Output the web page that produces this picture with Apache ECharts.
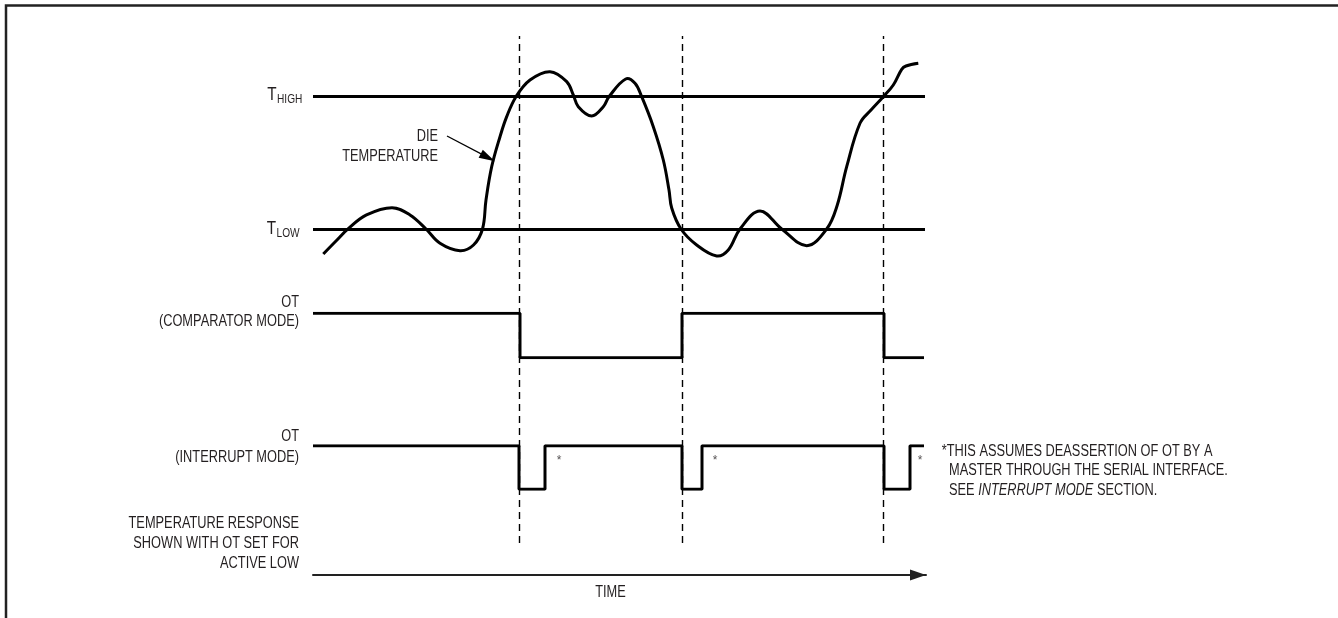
<!DOCTYPE html>
<html>
<head>
<meta charset="utf-8">
<script src="https://cdn.jsdelivr.net/npm/echarts@6/dist/echarts.min.js"></script>
<style>
html,body{margin:0;padding:0;background:#fff;}
#chart{width:1338px;height:618px;}
</style>
</head>
<body>
<div id="chart"></div>
<script>
// ---------- data ----------
const timeRange = [0, 123];            // arbitrary time units
const tempRange = [55, 90];            // arbitrary temperature units
const thresholds = [80, 60];           // T_HIGH, T_LOW
const thresholdSubs = ['HIGH', 'LOW'];
const thresholdEnd = 122.4;

// die temperature curve [time, temperature]
const dieTemperature = [
  [2.06,56.22],[4.6,58.19],[7.0,60.0],[10.7,62.12],[15.8,63.22],[19.4,62.12],
  [22.6,60.0],[25.4,57.84],[29.4,56.72],[32.1,57.58],[33.9,60.0],[34.6,64.38],
  [35.74,69.42],[37.4,73.95],[38.74,76.98],[40.6,80.0],[43.4,82.52],[47.4,83.78],
  [50.74,82.27],[52.06,80.26],[53.06,78.49],[55.74,77.08],[58.06,78.49],[59.2,80.0],
  [62.54,82.68],[64.4,82.03],[65.74,80.0],
  [68.06,75.47],[70.06,70.43],[71.2,65.9],[71.74,63.17],[73.6,60.0],[76.74,57.58],
  [80.74,55.92],[83.06,56.83],[85.4,60.0],[89.4,62.72],[93.74,60.0],[98.74,57.48],
  [102.74,60.0],[104.8,63.48],[106.74,69.42],[109.4,75.98],[111.6,77.99],[114.06,80.0],
  [116.06,81.77],[117.74,84.14],[118.6,84.64],[121.06,85.05]
];
// pointer from "DIE TEMPERATURE" label to the curve
const diePointer = [[26.8, 74.06], [34.96, 70.82]];

// threshold-crossing events (dashed markers)
const eventTimes = [41.26, 73.86, 114.06];

// OT outputs (1 = high, 0 = low), step changes at each time
const comparatorOT = [[0,1],[41.4,0],[73.8,1],[114.2,0],[122.2,0]];
const interruptOT  = [[0,1],[41.2,0],[46.4,1],[73.8,0],[77.8,1],[114.2,0],[119.4,1],[122.2,1]];
// master deassertion marks (*)
const masterClears = [[49.2,0.65],[80.4,0.65],[121.4,0.65]];

// text
const signalLabels = [['OT', '(COMPARATOR MODE)'], ['OT', '(INTERRUPT MODE)']];
const noteLines = ['TEMPERATURE RESPONSE', 'SHOWN WITH OT SET FOR', 'ACTIVE LOW'];
const dieLabel = ['DIE', 'TEMPERATURE'];
const footnote = ['*THIS ASSUMES DEASSERTION OF OT BY A', 'MASTER THROUGH THE SERIAL INTERFACE.'];
const footnoteLast = ['SEE ', 'INTERRUPT MODE', ' SECTION.'];
const timeLabel = 'TIME';

// ---------- chart ----------
const INK = '#231f20';
const LINE = '#000';
const FONT = '"Liberation Sans", Arial, Helvetica, sans-serif';
const SX = 0.8;  // condensed look

function txt(text, x, y, align, size, sx) {
  return {
    type: 'text', x: x, y: y, scaleX: sx == null ? SX : sx, scaleY: 1, silent: true, z: 20,
    style: {
      text: text, fill: INK, font: size + 'px ' + FONT, fontSize: size, fontFamily: FONT,
      textAlign: align, align: align, textVerticalAlign: 'middle', verticalAlign: 'middle'
    }
  };
}

const X0 = 313, XW = 615;
const chart = echarts.init(document.getElementById('chart'), null, {renderer: 'canvas'});

const hiddenX = (i) => ({type: 'value', gridIndex: i, min: timeRange[0], max: timeRange[1], show: false});
const hiddenY = (i, mn, mx) => ({type: 'value', gridIndex: i, min: mn, max: mx, show: false});

const graphics = [
  {type: 'rect', silent: true, z: 1, shape: {x: 6, y: 5.5, width: 1400, height: 700},
   style: {fill: 'none', stroke: '#222', lineWidth: 2.5}},
  // threshold labels
  txt('T', 276.5, 95, 'right', 18, 0.85),
  txt(thresholdSubs[0], 277, 99.5, 'left', 13.5, 0.75),
  txt('T', 276, 229, 'right', 18, 0.85),
  txt(thresholdSubs[1], 276.5, 233, 'left', 13.5, 0.75),
  // die label
  txt(dieLabel[0], 438, 137, 'right', 16),
  txt(dieLabel[1], 438, 157, 'right', 16),
  // signal labels
  txt(signalLabels[0][0], 299, 302.7, 'right', 16),
  txt(signalLabels[0][1], 299, 321.7, 'right', 16),
  txt(signalLabels[1][0], 299, 436.7, 'right', 16),
  txt(signalLabels[1][1], 299, 457.7, 'right', 16),
  txt(noteLines[0], 299, 524, 'right', 16),
  txt(noteLines[1], 299, 544, 'right', 16),
  txt(noteLines[2], 299, 564, 'right', 16),
  // footnote
  txt(footnote[0], 941.7, 451.2, 'left', 16),
  txt(footnote[1], 949, 470.8, 'left', 16),
  {
    type: 'text', x: 949, y: 490.8, scaleX: SX, scaleY: 1, silent: true, z: 20,
    style: {
      text: '{n|' + footnoteLast[0] + '}{i|' + footnoteLast[1] + '}{n|' + footnoteLast[2] + '}',
      fill: INK, fontSize: 16, fontFamily: FONT,
      textAlign: 'left', align: 'left', textVerticalAlign: 'middle', verticalAlign: 'middle',
      rich: {
        n: {fill: INK, fontSize: 16, fontFamily: FONT},
        i: {fill: INK, fontSize: 16, fontFamily: FONT, fontStyle: 'italic'}
      }
    }
  },
  txt(timeLabel, 610.5, 593, 'center', 16)
];

chart.setOption({
  animation: false,
  backgroundColor: '#fff',
  grid: [
    {left: X0, width: XW, top: 30.55, height: 231.5},
    {left: X0, width: XW, top: 313.3, height: 44.4},
    {left: X0, width: XW, top: 445.7, height: 43.6},
    {left: X0, width: XW, top: 36, height: 507},
    {left: X0, width: 613, top: 560, height: 15}
  ],
  xAxis: [
    hiddenX(0), hiddenX(1), hiddenX(2), hiddenX(3),
    {
      type: 'value', gridIndex: 4, min: 0, max: 122.6, position: 'bottom',
      axisLine: {show: true, onZero: false, symbol: ['none', 'triangle'], symbolSize: [11, 16],
                 symbolOffset: [0, -8], lineStyle: {color: '#222', width: 2}},
      axisTick: {show: false}, axisLabel: {show: false}, splitLine: {show: false}
    }
  ],
  yAxis: [
    hiddenY(0, tempRange[0], tempRange[1]),
    hiddenY(1, 0, 1), hiddenY(2, 0, 1), hiddenY(3, 0, 1), hiddenY(4, 0, 1)
  ],
  series: [
    {
      name: 'Die temperature', type: 'custom', xAxisIndex: 0, yAxisIndex: 0,
      data: dieTemperature, encode: {x: 0, y: 1}, silent: true, clip: false,
      renderItem: function (params, api) {
        if (params.dataIndex !== 0) return null;
        const pts = dieTemperature.map(d => api.coord(d));
        return {
          type: 'polyline',
          shape: {points: pts, smooth: 0.38},
          style: {stroke: LINE, lineWidth: 3, fill: null, lineJoin: 'round', lineCap: 'butt'}
        };
      }
    },
    {
      name: 'Thresholds', type: 'line', xAxisIndex: 0, yAxisIndex: 0, data: [], silent: true,
      markLine: {
        silent: true, animation: false, symbol: ['none', 'none'],
        label: {show: false},
        lineStyle: {color: LINE, width: 3, type: 'solid'},
        data: thresholds.map(v => [{coord: [0, v]}, {coord: [thresholdEnd, v]}]).concat([
          [
            {coord: diePointer[0], symbol: 'none', lineStyle: {color: LINE, width: 1.3, type: 'solid'}},
            {coord: diePointer[1], symbol: 'triangle', symbolSize: [9, 16]}
          ]
        ])
      }
    },
    {
      name: 'Events', type: 'line', xAxisIndex: 3, yAxisIndex: 3, data: [], silent: true,
      markLine: {
        silent: true, animation: false, symbol: ['none', 'none'], label: {show: false},
        lineStyle: {color: LINE, width: 1.4, type: [7, 5]},
        data: eventTimes.map(t => ({xAxis: t}))
      }
    },
    {
      name: 'OT comparator', type: 'line', xAxisIndex: 1, yAxisIndex: 1, step: 'end',
      data: comparatorOT, showSymbol: false, silent: true,
      lineStyle: {color: LINE, width: 3}
    },
    {
      name: 'OT interrupt', type: 'line', xAxisIndex: 2, yAxisIndex: 2, step: 'end',
      data: interruptOT, showSymbol: false, silent: true,
      lineStyle: {color: LINE, width: 3}
    },
    {
      name: 'Master clear', type: 'scatter', xAxisIndex: 2, yAxisIndex: 2,
      data: masterClears, symbolSize: 1, itemStyle: {color: 'rgba(0,0,0,0)'}, silent: true,
      label: {show: true, position: 'inside', formatter: '*', color: INK, fontSize: 12, fontFamily: FONT}
    }
  ],
  graphic: graphics
});
</script>
</body>
</html>
